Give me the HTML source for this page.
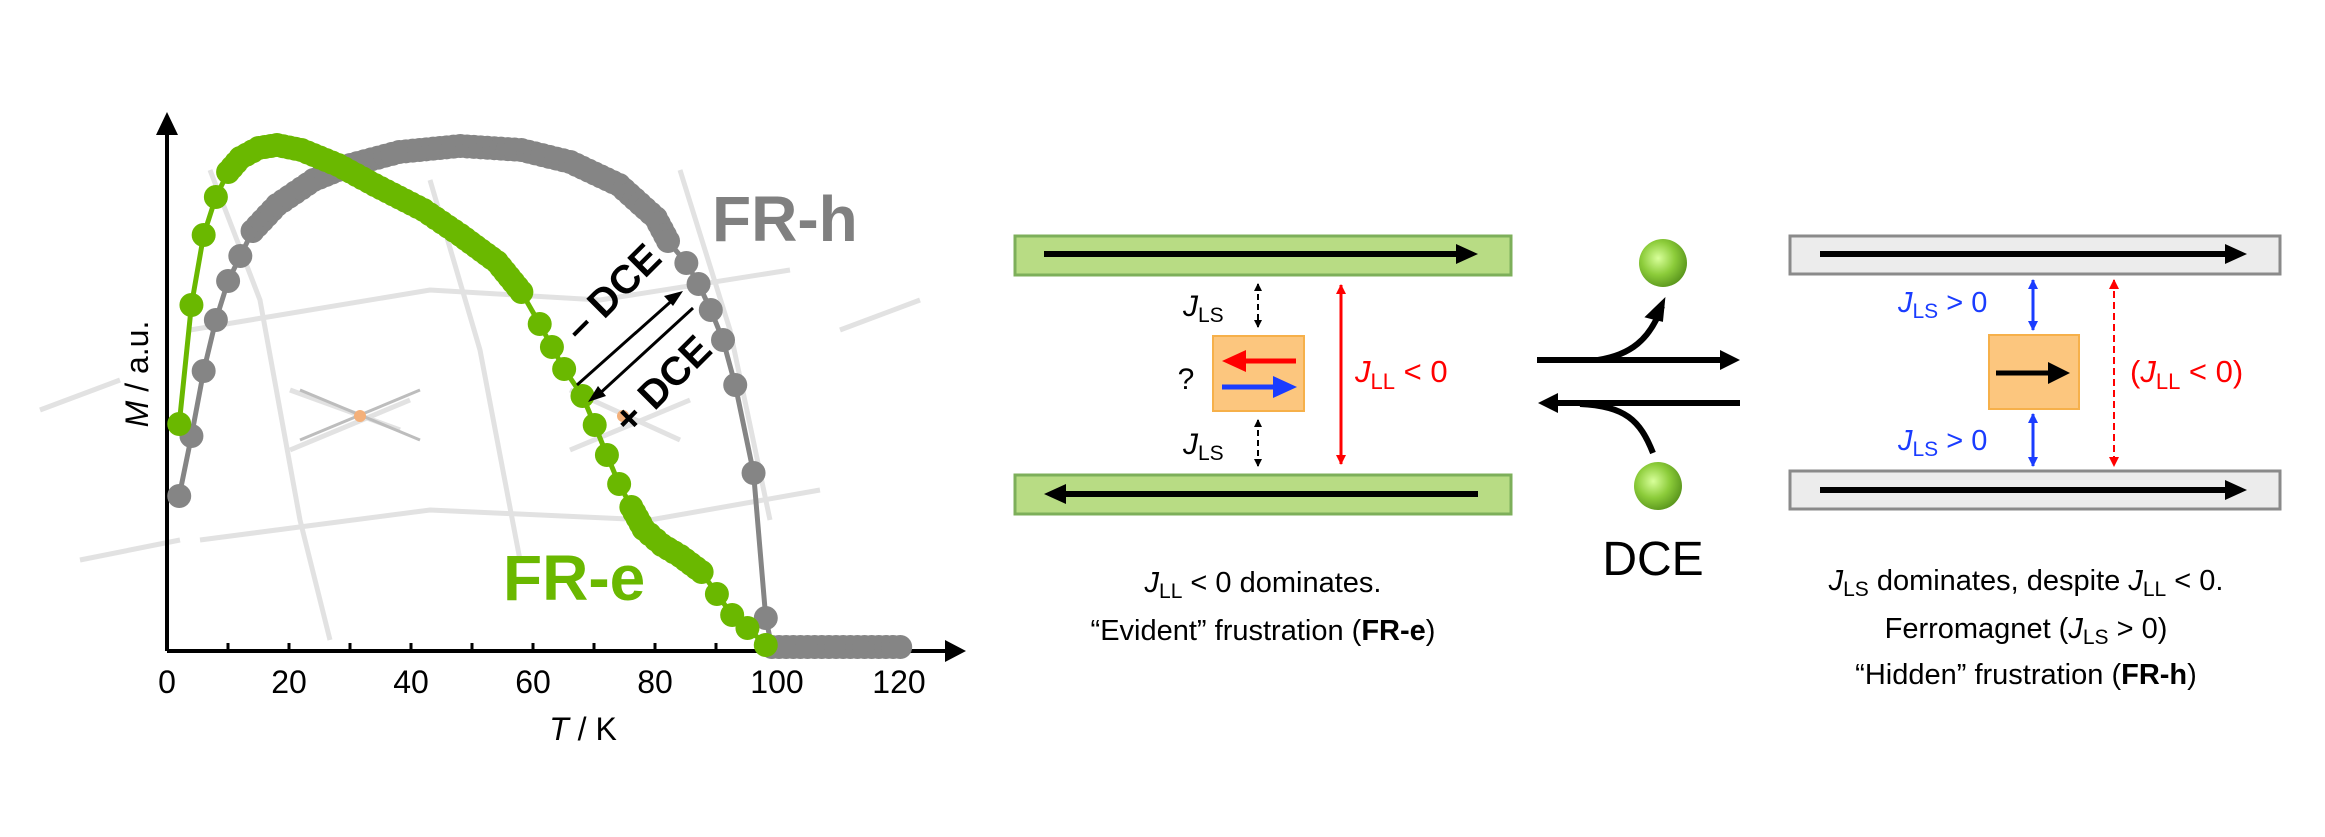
<!DOCTYPE html>
<html><head><meta charset="utf-8"><style>
html,body{margin:0;padding:0;background:#fff}
svg{display:block}
text{font-family:"Liberation Sans",sans-serif}
</style></head><body>
<svg id="s" width="2325" height="837" viewBox="0 0 2325 837" xmlns="http://www.w3.org/2000/svg">
<defs>
<marker id="ak2" markerWidth="8" markerHeight="8" refX="7" refY="4" orient="auto-start-reverse" markerUnits="userSpaceOnUse"><path d="M0,0 L8,4 L0,8 Z" fill="#000"/></marker>
<marker id="ar" markerWidth="10" markerHeight="10" refX="9" refY="5" orient="auto-start-reverse" markerUnits="userSpaceOnUse"><path d="M0,0 L10,5 L0,10 Z" fill="#f00"/></marker>
<marker id="ab" markerWidth="10" markerHeight="10" refX="9" refY="5" orient="auto-start-reverse" markerUnits="userSpaceOnUse"><path d="M0,0 L10,5 L0,10 Z" fill="#1a3cff"/></marker>
<radialGradient id="sg" cx="0.4" cy="0.4" r="0.7"><stop offset="0" stop-color="#d8ff9a"/><stop offset="0.5" stop-color="#8ccc3a"/><stop offset="1" stop-color="#4f8a16"/></radialGradient>
</defs>

<g stroke="#e2e2e2" stroke-width="5" fill="none">
<path d="M190,330 L430,290 L600,300 L790,270"/>
<path d="M200,540 L430,510 L650,520 L820,490"/>
<path d="M210,170 L260,300 L300,520 L330,640"/>
<path d="M430,180 L480,350 L520,560"/>
<path d="M680,170 L730,330 L770,520"/>
<path d="M290,390 L400,430 M290,450 L410,400"/>
<path d="M570,390 L680,440 M570,450 L690,400"/>
<path d="M840,330 L920,300 M40,410 L120,380 M80,560 L180,540"/>
</g>
<g stroke="#bdbdbd" stroke-width="3"><line x1="300" y1="390" x2="420" y2="440"/><line x1="300" y1="440" x2="420" y2="390"/></g>
<circle cx="360" cy="416" r="6" fill="#f4b07a"/><circle cx="623" cy="416" r="6" fill="#f4b07a"/>

<line x1="167" y1="651" x2="950" y2="651" stroke="#000" stroke-width="4"/>
<path d="M945,640 L966,651 L945,662 Z"/>
<line x1="167" y1="651" x2="167" y2="130" stroke="#000" stroke-width="4"/>
<path d="M156,135 L167,112 L178,135 Z"/>
<g stroke="#000" stroke-width="3">
<line x1="228" y1="651" x2="228" y2="643"/><line x1="289" y1="651" x2="289" y2="643"/><line x1="350" y1="651" x2="350" y2="643"/><line x1="411" y1="651" x2="411" y2="643"/><line x1="472" y1="651" x2="472" y2="643"/><line x1="533" y1="651" x2="533" y2="643"/><line x1="594" y1="651" x2="594" y2="643"/><line x1="655" y1="651" x2="655" y2="643"/><line x1="716" y1="651" x2="716" y2="643"/><line x1="777" y1="651" x2="777" y2="643"/><line x1="838" y1="651" x2="838" y2="643"/><line x1="899" y1="651" x2="899" y2="643"/>
</g>
<g font-size="32" text-anchor="middle">
<text x="167" y="693">0</text><text x="289" y="693">20</text><text x="411" y="693">40</text><text x="533" y="693">60</text><text x="655" y="693">80</text><text x="777" y="693">100</text><text x="899" y="693">120</text>
<text x="583" y="740"><tspan font-style="italic">T</tspan> / K</text>
<text transform="translate(148,374) rotate(-90)"><tspan font-style="italic">M</tspan> / a.u.</text>
</g>

<g id="curves"></g>

<text x="712" y="241" font-size="64" font-weight="bold" fill="#808080">FR-h</text>
<text x="503" y="600" font-size="64" font-weight="bold" fill="#6ab800">FR-e</text>

<line x1="577" y1="385" x2="676" y2="297" stroke="#000" stroke-width="3"/>
<path d="M683,291 L664,296 L673,306 Z"/>
<line x1="693" y1="308" x2="597" y2="396" stroke="#000" stroke-width="3"/>
<path d="M588,402 L598,386 L606,396 Z"/>
<text transform="translate(622,302) rotate(-45)" font-size="40" font-weight="bold" text-anchor="middle">– DCE</text>
<text transform="translate(672,394) rotate(-45)" font-size="40" font-weight="bold" text-anchor="middle">+ DCE</text>

<rect x="1015" y="236" width="496" height="39" fill="#b8dc84" stroke="#7daf5a" stroke-width="3"/>
<rect x="1015" y="475" width="496" height="39" fill="#b8dc84" stroke="#7daf5a" stroke-width="3"/>
<line x1="1044" y1="254" x2="1460" y2="254" stroke="#000" stroke-width="6"/><path d="M1478,254 L1456,244 L1456,264 Z"/>
<line x1="1478" y1="494" x2="1062" y2="494" stroke="#000" stroke-width="6"/><path d="M1044,494 L1066,484 L1066,504 Z"/>

<rect x="1213" y="336" width="91" height="75" fill="#fcc67e" stroke="#f6b04a" stroke-width="2"/>
<line x1="1296" y1="361" x2="1240" y2="361" stroke="#f00" stroke-width="5"/><path d="M1222,361 L1246,350 L1246,372 Z" fill="#f00"/>
<line x1="1222" y1="387" x2="1280" y2="387" stroke="#1a3cff" stroke-width="5"/><path d="M1297,387 L1273,376 L1273,398 Z" fill="#1a3cff"/>
<text x="1186" y="389" font-size="30" text-anchor="middle">?</text>
<line x1="1258" y1="284" x2="1258" y2="327" stroke="#000" stroke-width="2" stroke-dasharray="6,4" marker-start="url(#ak2)" marker-end="url(#ak2)"/>
<line x1="1258" y1="420" x2="1258" y2="466" stroke="#000" stroke-width="2" stroke-dasharray="6,4" marker-start="url(#ak2)" marker-end="url(#ak2)"/>
<text x="1183" y="316" font-size="30"><tspan font-style="italic">J</tspan><tspan font-size="21" dy="6">LS</tspan></text>
<text x="1183" y="454" font-size="30"><tspan font-style="italic">J</tspan><tspan font-size="21" dy="6">LS</tspan></text>
<line x1="1341" y1="285" x2="1341" y2="464" stroke="#f00" stroke-width="3" marker-start="url(#ar)" marker-end="url(#ar)"/>
<text x="1355" y="382" font-size="31" fill="#f00"><tspan font-style="italic">J</tspan><tspan font-size="22" dy="7">LL</tspan><tspan dy="-7"> &lt; 0</tspan></text>

<line x1="1537" y1="360" x2="1722" y2="360" stroke="#000" stroke-width="6"/><path d="M1740,360 L1720,350 L1720,370 Z"/>
<line x1="1740" y1="403" x2="1556" y2="403" stroke="#000" stroke-width="6"/><path d="M1538,403 L1558,393 L1558,413 Z"/>
<path d="M1598,360 C1630,355 1650,340 1662,306" stroke="#000" stroke-width="6" fill="none"/><path d="M1665,297 L1647,320 L1666,322 Z" transform="rotate(8 1665 300)"/>
<path d="M1653,453 C1640,420 1625,406 1580,404" stroke="#000" stroke-width="6" fill="none"/>
<circle cx="1663" cy="263" r="24" fill="url(#sg)"/>
<circle cx="1658" cy="486" r="24" fill="url(#sg)"/>
<text x="1653" y="575" font-size="48" text-anchor="middle">DCE</text>

<rect x="1790" y="236" width="490" height="38" fill="#ececec" stroke="#8a8a8a" stroke-width="3"/>
<rect x="1790" y="471" width="490" height="38" fill="#ececec" stroke="#8a8a8a" stroke-width="3"/>
<line x1="1820" y1="254" x2="2228" y2="254" stroke="#000" stroke-width="6"/><path d="M2247,254 L2225,244 L2225,264 Z"/>
<line x1="1820" y1="490" x2="2228" y2="490" stroke="#000" stroke-width="6"/><path d="M2247,490 L2225,480 L2225,500 Z"/>
<rect x="1989" y="335" width="90" height="74" fill="#fcc67e" stroke="#f6b04a" stroke-width="2"/>
<line x1="1996" y1="373" x2="2052" y2="373" stroke="#000" stroke-width="5"/><path d="M2070,373 L2048,362 L2048,384 Z"/>
<line x1="2033" y1="280" x2="2033" y2="330" stroke="#1a3cff" stroke-width="3" marker-start="url(#ab)" marker-end="url(#ab)"/>
<line x1="2033" y1="414" x2="2033" y2="466" stroke="#1a3cff" stroke-width="3" marker-start="url(#ab)" marker-end="url(#ab)"/>
<line x1="2114" y1="280" x2="2114" y2="466" stroke="#f00" stroke-width="2" stroke-dasharray="7,4" marker-start="url(#ar)" marker-end="url(#ar)"/>
<text x="1898" y="312" font-size="29" fill="#1a3cff"><tspan font-style="italic">J</tspan><tspan font-size="21" dy="6">LS</tspan><tspan dy="-6"> &gt; 0</tspan></text>
<text x="1898" y="450" font-size="29" fill="#1a3cff"><tspan font-style="italic">J</tspan><tspan font-size="21" dy="6">LS</tspan><tspan dy="-6"> &gt; 0</tspan></text>
<text x="2130" y="382" font-size="31" fill="#f00">(<tspan font-style="italic">J</tspan><tspan font-size="22" dy="7">LL</tspan><tspan dy="-7"> &lt; 0)</tspan></text>

<g font-size="29" text-anchor="middle">
<text x="1263" y="592"><tspan font-style="italic">J</tspan><tspan font-size="21" dy="6">LL</tspan><tspan dy="-6"> &lt; 0 dominates.</tspan></text>
<text x="1263" y="640">“Evident” frustration (<tspan font-weight="bold">FR-e</tspan>)</text>
<text x="2026" y="590"><tspan font-style="italic">J</tspan><tspan font-size="21" dy="6">LS</tspan><tspan dy="-6"> dominates, despite </tspan><tspan font-style="italic">J</tspan><tspan font-size="21" dy="6">LL</tspan><tspan dy="-6"> &lt; 0.</tspan></text>
<text x="2026" y="638">Ferromagnet (<tspan font-style="italic">J</tspan><tspan font-size="21" dy="6">LS</tspan><tspan dy="-6"> &gt; 0)</tspan></text>
<text x="2026" y="684">“Hidden” frustration (<tspan font-weight="bold">FR-h</tspan>)</text>
</g>
</svg>
<script>
(function(){
var NS="http://www.w3.org/2000/svg",g=document.getElementById("curves");
function X(t){return 167+t*6.11;}
function dot(x,y,col){var c=document.createElementNS(NS,"circle");c.setAttribute("cx",x);c.setAttribute("cy",y);c.setAttribute("r","12");c.setAttribute("fill",col);g.appendChild(c);}
function draw(pts,col){
 var d="M"+pts.map(function(p){return X(p[0])+","+p[1];}).join(" L");
 var path=document.createElementNS(NS,"path");
 path.setAttribute("d",d);path.setAttribute("stroke",col);path.setAttribute("stroke-width","5");path.setAttribute("fill","none");
 g.appendChild(path);
 for(var i=0;i<pts.length;i++){
  var x0=X(pts[i][0]),y0=pts[i][1];
  dot(x0,y0,col);
  if(pts[i][2]&&i+1<pts.length){
   var x1=X(pts[i+1][0]),y1=pts[i+1][1];
   var L=Math.hypot(x1-x0,y1-y0),n=Math.max(1,Math.round(L/7));
   for(var k=1;k<n;k++)dot(x0+(x1-x0)*k/n,y0+(y1-y0)*k/n,col);
  }
 }
}
var gray=[[2,496],[4,436],[6,371],[8,320],[10,281],[12,256],[14,231,1],[18,205,1],[24,180,1],[30,165,1],[38,152,1],[48,146,1],[58,150,1],[66,162,1],[74,185,1],[80,218,1],[82,241],[85,263],[87,284],[89,310],[91,340],[93,385],[96,473],[98,618],[99,647,1],[120,647]];
var green=[[2,424],[4,305],[6,235],[8,197],[10,172,1],[12,158,1],[15,148,1],[18,145,1],[22,150,1],[28,165,1],[34,185,1],[42,210,1],[48,235,1],[54,262,1],[58,292],[61,324],[63,347],[65,369],[68,396],[70,425],[72,455],[74,484],[76,507,1],[78,529,1],[81,545,1],[84,556,1],[87.5,572],[90,594],[92.5,615],[95,628],[98,645]];
draw(gray,"#858585");
draw(green,"#6ab800");
})();
</script>
</body></html>
